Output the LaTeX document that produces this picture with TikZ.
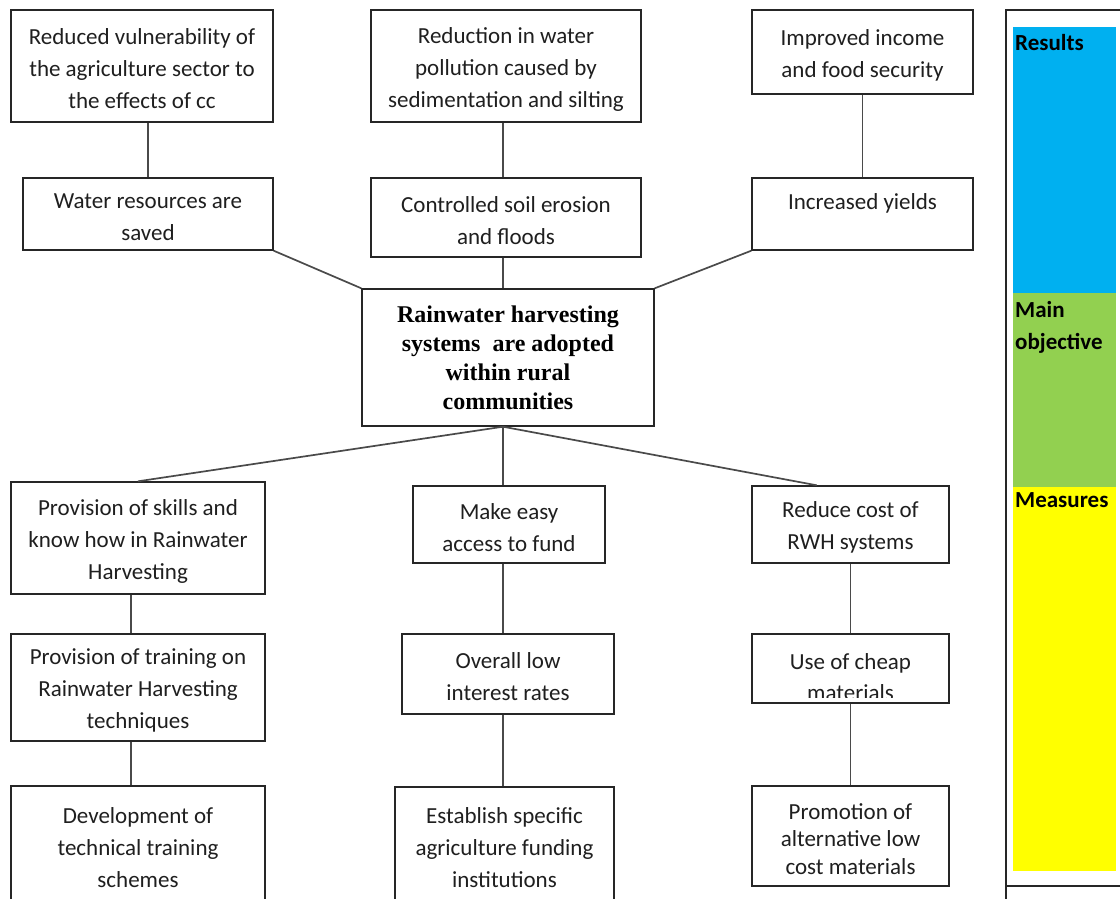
\documentclass[tikz,border=0pt]{standalone}
\usepackage{fontspec}
\setmainfont{Carlito}
\newfontfamily\timesfont{Liberation Serif}
\usetikzlibrary{calc}
\definecolor{boxc}{HTML}{262626}
\definecolor{connc}{HTML}{4A4A4A}
\definecolor{resblue}{HTML}{00B0F0}
\definecolor{objgreen}{HTML}{92D050}
\definecolor{measyellow}{HTML}{FFFF00}
\newcommand\tstrut{\rule{0pt}{22pt}}
\begin{document}
\begin{tikzpicture}[x=1pt,y=-1pt,
  box/.style={draw=boxc, line width=1.4pt, inner sep=0pt, align=center,
    font=\fontsize{23}{32}\selectfont, text=black!88},
  txt/.style={inner sep=0pt, align=center, font=\fontsize{23}{31}\selectfont, text=black!88},
  mainbox/.style={draw=boxc, line width=1.4pt, inner sep=0pt, align=center,
    font=\timesfont\bfseries\fontsize{24}{29}\selectfont, text=black},
  legend/.style={inner sep=0pt, align=left, anchor=north west,
    font=\bfseries\fontsize{23}{32}\selectfont, text=black},
  conn/.style={draw=connc, line width=1.7pt}]
\useasboundingbox (0,0) rectangle (1120,898);
\clip (0,0) rectangle (1120,898);
\fill[white] (0,0) rectangle (1120,898);

% ---- results row ----
\node[box, minimum width=262pt, minimum height=112pt] (A1) at (142,66)
  {\tstrut Reduced vulnerability of\\the agriculture sector to\\the effects of cc};
\node[box, minimum width=250pt, minimum height=72pt] (A2) at (148,214)
  {\tstrut Water resources are\\saved};
\node[box, minimum width=270pt, minimum height=112pt] (B1) at (506,66)
  {\tstrut Reduction in water\\pollution caused by\\sedimentation and silting};
\node[box, minimum width=270pt, minimum height=79pt] (B2) at (506,217.5)
  {\tstrut Controlled soil erosion\\and floods};
\node[box, minimum width=221pt, minimum height=84pt] (C1) at (862.5,52)
  {\tstrut Improved income\\and food security};
\node[box, minimum width=221pt, minimum height=72pt] (C2) at (862.5,214)
  {\tstrut Increased yields\\\mbox{}};

% ---- main objective ----
\node[mainbox, minimum width=292pt, minimum height=137pt] (M) at (508,357.5)
  {Rainwater harvesting\\systems\ \ are adopted\\within rural\\communities};

% ---- measures ----
\node[box, minimum width=254pt, minimum height=112pt] (D1) at (138,538)
  {\tstrut Provision of skills and\\know how in Rainwater\\Harvesting};
\node[box, minimum width=254pt, minimum height=107pt] (D2) at (138,687.5)
  {\tstrut Provision of training on\\Rainwater Harvesting\\techniques};
\node[box, minimum width=254pt, minimum height=118pt] (D3) at (138,845)
  {\tstrut Development of\\technical training\\schemes};
\node[box, minimum width=192pt, minimum height=77pt] (E1) at (509,524.5)
  {\tstrut Make easy\\access to fund};
\node[box, minimum width=212pt, minimum height=80pt] (E2) at (508,674)
  {\tstrut Overall low\\interest rates};
\node[box, minimum width=219pt, minimum height=116pt] (E3) at (504.5,845)
  {\tstrut Establish specific\\agriculture funding\\institutions};
\node[box, minimum width=197pt, minimum height=77pt] (F1) at (850.5,524.5)
  {\tstrut Reduce cost of\\RWH systems};
\begin{scope}
  \clip (752,634) rectangle (949,697);
  \node[txt] (F2t) at (850.5,677.5) {Use of cheap\\materials};
\end{scope}
\node[draw=boxc, line width=1.4pt, inner sep=0pt, minimum width=197pt, minimum height=69pt] (F2) at (850.5,668.5) {};
\node[box, minimum width=197pt, minimum height=100pt,
  font=\fontsize{23}{27.5}\selectfont] (F3) at (850.5,836)
  {\tstrut Promotion of\\alternative low\\cost materials};

% ---- connectors ----
\coordinate (ct) at ($(M.north)+(-5,0)$);
\coordinate (cb) at ($(M.south)+(-5,0)$);
\coordinate (dl) at (131,0);
\draw[conn] (A2.north) -- (A2.north |- A1.south);
\draw[conn] (B2.north -| ct) -- (B1.south -| ct);
\draw[conn] (C2.north) -- (C1.south);
\draw[conn] (A2.south east) -- (M.north west);
\draw[conn] (B2.south -| ct) -- (ct);
\draw[conn] (C2.south west) -- (M.north east);
\draw[conn] (cb) -- ($(D1.north west)!0.5!(D1.north east)$);
\draw[conn] (cb) -- (cb |- E1.north);
\draw[conn] (cb) -- ($(F1.north west)!0.33!(F1.north east)$);
\draw[conn] (D1.south -| dl) -- (D2.north -| dl);
\draw[conn] (D2.south -| dl) -- (D3.north -| dl);
\draw[conn] (E1.south -| cb) -- (E2.north -| cb);
\draw[conn] (E2.south -| cb) -- (E3.north -| cb);
\draw[conn] (F1.south) -- (F2.north);
\draw[conn] (F2.south) -- (F3.north);

% ---- legend ----
\draw[draw=boxc, line width=1.4pt] (1006,930) -- (1006,10) -- (1130,10);
\draw[draw=boxc, line width=1.4pt] (1006,886) -- (1130,886);
\fill[resblue] (1013,27) rectangle (1116,293);
\fill[objgreen] (1013,293) rectangle (1116,487);
\fill[measyellow] (1013,487) rectangle (1116,871);
\node[legend] (LR) at (1015,34) {Results};
\node[legend] (LO) at (1015,301) {Main\\objective};
\node[legend] (LM) at (1015,492) {Measures};
\end{tikzpicture}
\end{document}
